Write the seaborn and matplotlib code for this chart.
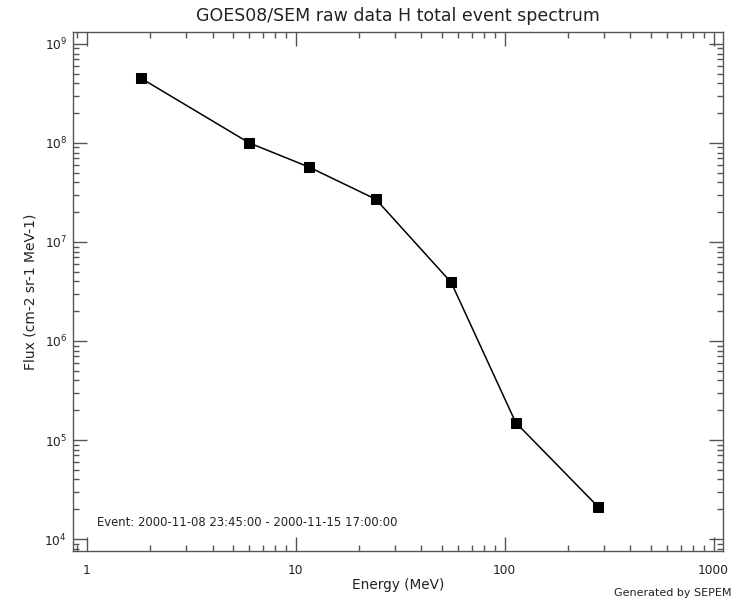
import matplotlib
matplotlib.use("Agg")
import matplotlib.pyplot as plt
import matplotlib.ticker as mticker
import seaborn as sns
import pandas as pd
import numpy as np

# Data
energy_mev = [1.82, 6.0, 11.6, 24.2, 55.5, 113.0, 281.0]
flux = [4.5e8, 1.0e8, 5.7e7, 2.7e7, 3.9e6, 1.5e5, 2.1e4]
x_ticks = [1, 10, 100, 1000]
x_tick_labels = ["1", "10", "100", "1000"]
y_ticks = [1e4, 1e5, 1e6, 1e7, 1e8, 1e9]

title = "GOES08/SEM raw data H total event spectrum"
xlabel = "Energy (MeV)"
ylabel = "Flux (cm-2 sr-1 MeV-1)"
event_text = "Event: 2000-11-08 23:45:00 - 2000-11-15 17:00:00"
footer = "Generated by SEPEM"

df = pd.DataFrame({"energy": energy_mev, "flux": flux})

sns.set_style("ticks")
plt.rcParams["font.family"] = ["DejaVu Sans"]
text_color = "#222222"
frame_color = "#555555"

W, H = 735, 600
fig = plt.figure(figsize=(W / 100, H / 100), dpi=100)
left, right, top, bottom = 72.7, 723.0, 32.0, 551.0
ax = fig.add_axes([left / W, 1 - bottom / H, (right - left) / W, (bottom - top) / H])

sns.lineplot(data=df, x="energy", y="flux", ax=ax, color="black", linewidth=1.1,
             marker="s", markersize=7, markeredgecolor="black", markerfacecolor="black",
             sort=False)

ax.set_xscale("log")
ax.set_yscale("log")
ax.set_xlim(0.857, 1109)
ax.set_ylim(7.57e3, 1.32e9)

ax.set_xticks(x_ticks)
ax.set_xticklabels(x_tick_labels)
ax.xaxis.set_minor_locator(mticker.LogLocator(base=10, subs=np.arange(2, 10)))
ax.xaxis.set_minor_formatter(mticker.NullFormatter())
ax.set_yticks(y_ticks)
ax.yaxis.set_major_formatter(mticker.LogFormatterMathtext())
ax.yaxis.set_minor_locator(mticker.LogLocator(base=10, subs=np.arange(2, 10)))
ax.yaxis.set_minor_formatter(mticker.NullFormatter())

ax.tick_params(which="both", direction="in", top=True, right=True, color=frame_color, width=1.0)
ax.tick_params(which="major", length=10)
ax.tick_params(which="minor", length=4.5)
ax.tick_params(axis="x", which="major", pad=9, labelsize=8.8, labelcolor=text_color)
ax.tick_params(axis="y", which="major", pad=4, labelsize=8.8, labelcolor=text_color)

for s in ax.spines.values():
    s.set_color(frame_color)
    s.set_linewidth(1.0)

ax.set_xlabel(xlabel, fontsize=9.8, color=text_color, labelpad=1)
ax.set_ylabel(ylabel, fontsize=10, color=text_color, labelpad=5)

fig.text(398 / W, 1 - 16 / H, title, ha="center", va="center", fontsize=12.5, color=text_color)
fig.text(97 / W, 1 - 523 / H, event_text, ha="left", va="center", fontsize=8.4, color=text_color)
fig.text(732 / W, 1 - 593 / H, footer, ha="right", va="center", fontsize=8.0, color=text_color)

fig.savefig("out.png", dpi=100)
